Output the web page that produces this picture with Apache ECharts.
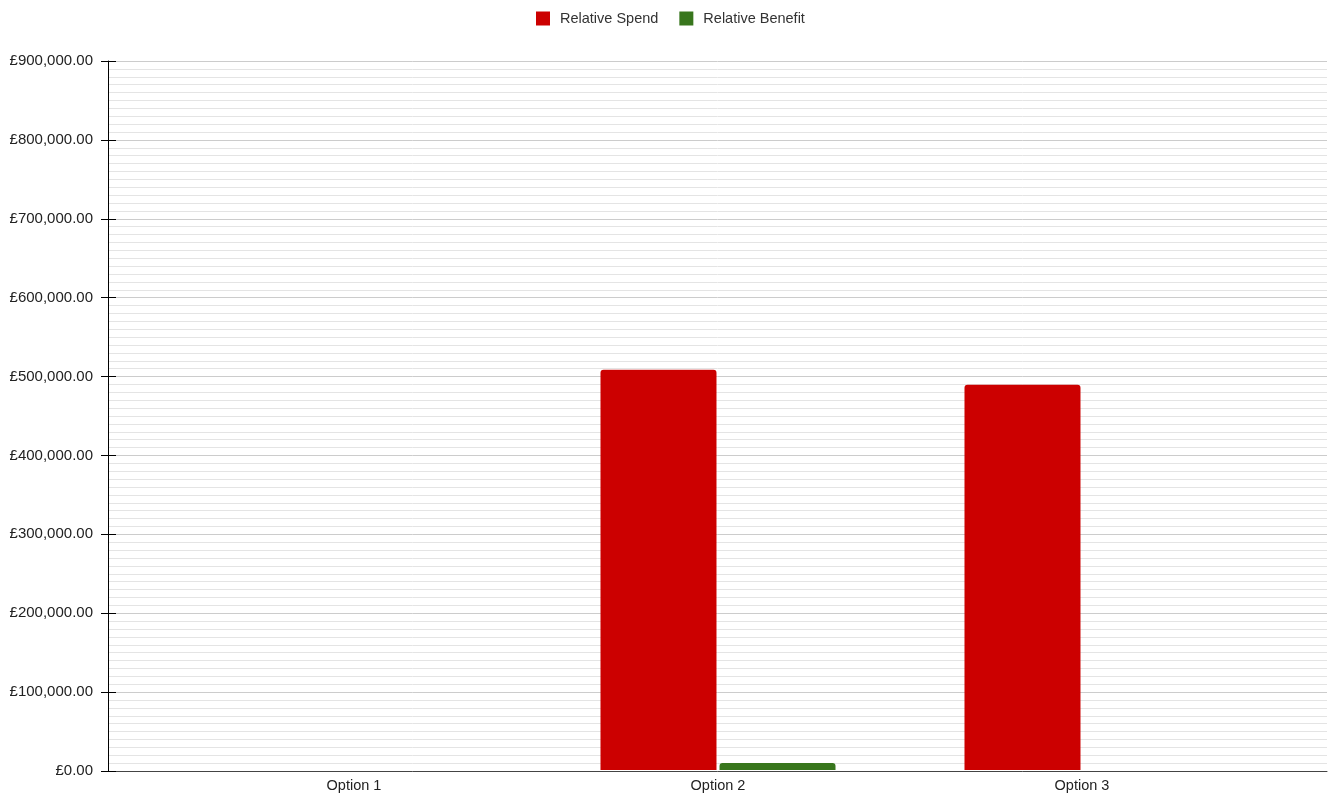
<!DOCTYPE html>
<html>
<head>
<meta charset="utf-8">
<script src="https://cdn.jsdelivr.net/npm/echarts@6/dist/echarts.min.js"></script>
<style>html,body{margin:0;padding:0;background:#fff}#c{width:1329px;height:793px}</style>
</head>
<body>
<div id="c"></div>
<script>
const categories = ['Option 1', 'Option 2', 'Option 3'];
const spend = [0, 508000, 489000];
const benefit = [0, 9000, 0];
const seriesNames = ['Relative Spend', 'Relative Benefit'];
const yMin = 0, yMax = 900000, yStep = 100000;

const chart = echarts.init(document.getElementById('c'));
const fmt = v => '£' + Number(v).toLocaleString('en-GB', {minimumFractionDigits: 2, maximumFractionDigits: 2});
chart.setOption({
  animation: false,
  textStyle: {fontFamily: 'Liberation Sans, Arial, sans-serif'},
  legend: {
    top: 6, left: 531, itemWidth: 14, itemHeight: 14, itemGap: 21,
    icon: 'rect',
    textStyle: {fontSize: 14.5, color: '#333', padding: [0, 0, 0, 5]}
  },
  grid: [
    {left: 108, right: 2, top: 61, bottom: 22, containLabel: false},
    {left: 172, right: 65, top: 61, bottom: 22, containLabel: false}
  ],
  xAxis: [
    {type: 'category', gridIndex: 0, data: [''],
     axisLine: {lineStyle: {color: '#444', width: 1}},
     axisTick: {show: false}, axisLabel: {show: false}},
    {type: 'category', gridIndex: 1, data: categories,
     axisLine: {show: false}, axisTick: {show: false},
     axisLabel: {color: '#222', fontSize: 14.5, margin: 8}}
  ],
  yAxis: [
    {type: 'value', gridIndex: 0, min: yMin, max: yMax, interval: yStep,
     axisLine: {show: true, lineStyle: {color: '#000'}},
     axisTick: {show: true, length: 7, lineStyle: {color: '#000'}},
     axisLabel: {formatter: fmt, color: '#222', fontSize: 15, margin: 15},
     splitLine: {lineStyle: {color: '#cccccc'}},
     minorTick: {show: false, splitNumber: 10},
     minorSplitLine: {show: true, lineStyle: {color: '#e4e4e4'}}},
    {type: 'value', gridIndex: 0, min: yMin, max: yMax, interval: yStep,
     axisLine: {show: false}, position: 'left',
     axisTick: {show: true, inside: true, length: 8, lineStyle: {color: '#000'}},
     axisLabel: {show: false}, splitLine: {show: false}},
    {type: 'value', gridIndex: 1, min: yMin, max: yMax, interval: yStep, show: false}
  ],
  series: [
    {name: seriesNames[0], type: 'bar', xAxisIndex: 1, yAxisIndex: 2, data: spend, barWidth: 116, barGap: '2.6%',
     itemStyle: {color: '#cc0000', borderRadius: [3, 3, 0, 0]}},
    {name: seriesNames[1], type: 'bar', xAxisIndex: 1, yAxisIndex: 2, data: benefit, barWidth: 116,
     itemStyle: {color: '#38761d', borderRadius: [3, 3, 0, 0]}}
  ]
});
</script>
</body>
</html>
